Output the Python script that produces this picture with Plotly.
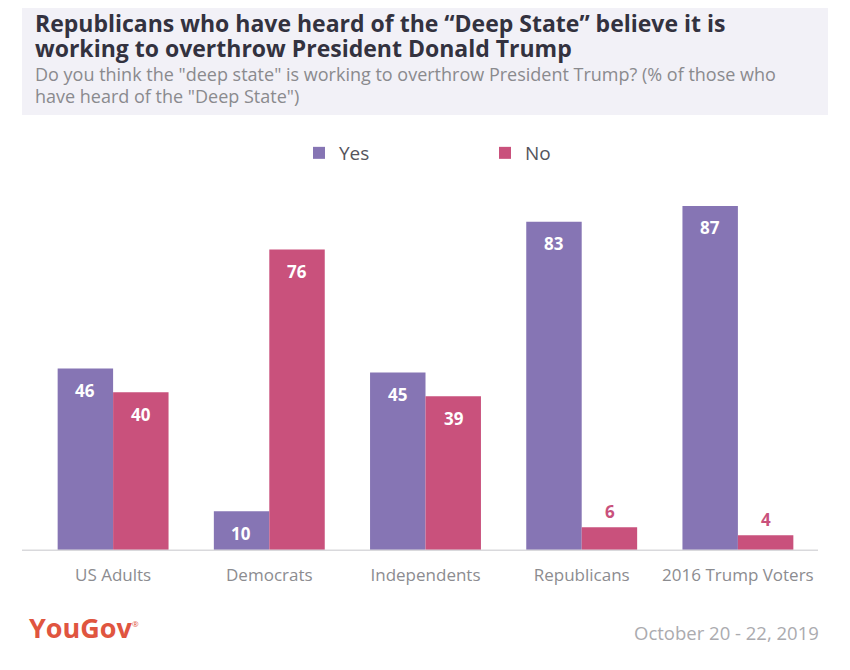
import plotly.graph_objects as go

categories = ["US Adults", "Democrats", "Independents", "Republicans", "2016 Trump Voters"]
yes_values = [46, 10, 45, 83, 87]
no_values = [40, 76, 39, 6, 4]

title_lines = ["Republicans who have heard of the “Deep State” believe it is",
               "working to overthrow President Donald Trump"]
subtitle_lines = ["Do you think the \"deep state\" is working to overthrow President Trump? (% of those who",
                  "have heard of the \"Deep State\")"]
source_text = "October 20 - 22, 2019"
brand_text = "YouGov"

YES_C = "#8675b4"
NO_C = "#c9517c"
FONT = "Open Sans"

W, H = 850, 670
OFF = 8  # page offset of the figure
PL, PR, PT, PB = 35, 816, 180, 551
L = PL - OFF
T = PT - OFF
R = W - (PR - OFF)
B = H - (PB - OFF)
pw = W - L - R
ph = H - T - B

def px(x):
    return (x - OFF - L) / pw

def py(y):
    return (H - B - (y - OFF)) / ph

fig = go.Figure()
fig.add_bar(name="Yes", x=categories, y=yes_values, marker_color=YES_C, marker_line_width=0)
fig.add_bar(name="No", x=categories, y=no_values, marker_color=NO_C, marker_line_width=0)

annotations = []
for series, color, off in [(yes_values, YES_C, -0.18), (no_values, NO_C, 0.18)]:
    for j, v in enumerate(series):
        inside = v >= 10
        annotations.append(dict(
            x=j + off, y=v, xref="x", yref="y", text=f"<b>{v}</b>", showarrow=False,
            yshift=-22 if inside else 16,
            font=dict(family=FONT, size=17, color="white" if inside else color),
        ))

for line, yc in zip(title_lines, [23, 48]):
    annotations.append(dict(x=px(34), y=py(yc), xref="paper", yref="paper", xanchor="left",
                            yanchor="middle", showarrow=False, text=f"<b>{line}</b>", borderpad=0,
                            font=dict(family=FONT, size=23, color="#33323f")))
for line, yc in zip(subtitle_lines, [74, 96]):
    annotations.append(dict(x=px(34), y=py(yc), xref="paper", yref="paper", xanchor="left",
                            yanchor="middle", showarrow=False, text=line, borderpad=0,
                            font=dict(family=FONT, size=18, color="#8a8a8e")))

annotations += [
    dict(x=px(27), y=py(627), xref="paper", yref="paper", xanchor="left", yanchor="middle",
         showarrow=False, text=f"<b>{brand_text}</b><sup><span style='font-size:8px'>®</span></sup>",
         font=dict(family=FONT, size=27, color="#e0553f")),
    dict(x=px(821), y=py(632), xref="paper", yref="paper", xanchor="right", yanchor="middle",
         showarrow=False, text=source_text,
         font=dict(family=FONT, size=18.5, color="#ababaf")),
]

shapes = [
    dict(type="rect", xref="paper", yref="paper", x0=px(22), x1=px(828), y0=py(115), y1=py(0),
         fillcolor="#f2f1f7", line_width=0, layer="below"),
    dict(type="line", xref="paper", yref="y", x0=px(22), x1=px(818), y0=0, y1=0,
         line=dict(color="#d9d9dc", width=3), layer="above"),
]

fig.update_layout(
    width=W, height=H,
    margin=dict(l=L, r=R, t=T, b=B, pad=0),
    paper_bgcolor="white", plot_bgcolor="white",
    barmode="group", bargap=0.29, bargroupgap=0,
    font=dict(family=FONT),
    showlegend=True,
    legend=dict(orientation="h", x=px(299), y=py(153), xanchor="left", yanchor="middle",
                entrywidth=141, entrywidthmode="pixels", traceorder="normal", itemwidth=30,
                font=dict(family=FONT, size=19, color="#55545c")),
    xaxis=dict(showgrid=False, showline=False, ticks="", tickfont=dict(family=FONT, size=17, color="#8c8c90"),
               ticklabelstandoff=12),
    yaxis=dict(range=[0, ph / 3.966], showgrid=False, showticklabels=False, zeroline=False, showline=False),
    annotations=annotations,
    shapes=shapes,
)

fig.write_html("out.html")
